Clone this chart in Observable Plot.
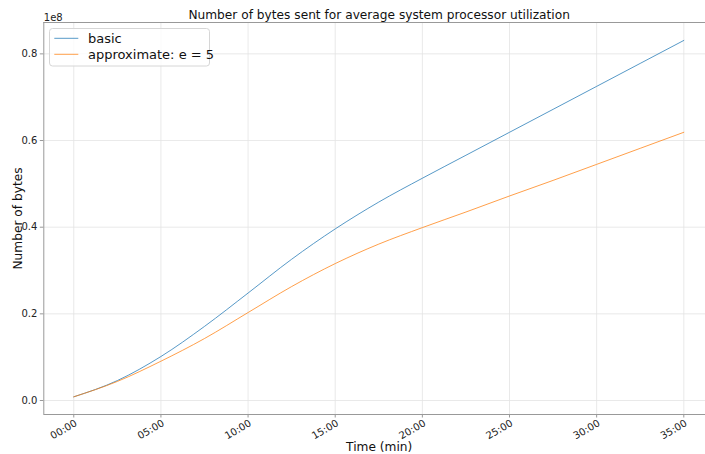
<!DOCTYPE html>
<html>
<head>
<meta charset="utf-8">
<script src="https://cdn.jsdelivr.net/npm/d3@7"></script>
<script src="https://cdn.jsdelivr.net/npm/@observablehq/plot@0.6"></script>
<style>
  body { margin: 0; background: #fff; }
  #chart svg { font-family: "DejaVu Sans", sans-serif; }
</style>
</head>
<body>
<div id="chart"></div>
<script>
// ---- data (values in units of 1e8 bytes) ----
const minutes = [0, 2.5, 5, 7.5, 10, 12.5, 15, 17.5, 20, 22.5, 25, 27.5, 30, 32.5, 35];
const basicBytes = [0.0085, 0.046, 0.1015, 0.171, 0.248, 0.326, 0.396, 0.458, 0.513, 0.566, 0.619, 0.672, 0.725, 0.778, 0.831];
const approxBytes = [0.0085, 0.044, 0.0907, 0.143, 0.203, 0.263, 0.316, 0.361, 0.399, 0.435, 0.472, 0.508, 0.545, 0.582, 0.619];
const seriesNames = ["basic", "approximate: e = 5"];
const seriesColors = ["#1f77b4", "#ff7f0e"];
const xTicks = [0, 5, 10, 15, 20, 25, 30, 35];
const xTickLabels = ["00:00", "05:00", "10:00", "15:00", "20:00", "25:00", "30:00", "35:00"];
const yTicks = [0, 0.2, 0.4, 0.6, 0.8];
const yTickLabels = ["0.0", "0.2", "0.4", "0.6", "0.8"];
const titleText = "Number of bytes sent for average system processor utilization";
const xLabel = "Time (min)";
const yLabel = "Number of bytes";
const offsetLabel = "1e8";

const rows = [];
minutes.forEach((m, i) => {
  rows.push({ m, v: basicBytes[i], s: seriesNames[0] });
  rows.push({ m, v: approxBytes[i], s: seriesNames[1] });
});

const xDomain = [-1.72, 36.245];
const yDomain = [-0.0323, 0.8724];
const spine = "#999";
const gridColor = "#e3e3e3";
const textColor = "#222";

const plot = Plot.plot({
  width: 705,
  height: 454,
  marginLeft: 43.3,
  marginRight: 0,
  marginTop: 22,
  marginBottom: 40,
  style: { fontFamily: "DejaVu Sans, sans-serif", fontSize: "10px", color: textColor, background: "#fff", overflow: "visible" },
  x: { domain: xDomain, axis: null },
  y: { domain: yDomain, axis: null },
  color: { domain: seriesNames, range: seriesColors },
  marks: [
    Plot.gridX(xTicks, { stroke: gridColor, strokeOpacity: 1, strokeWidth: 0.8 }),
    Plot.gridY(yTicks, { stroke: gridColor, strokeOpacity: 1, strokeWidth: 0.8 }),
    Plot.ruleX([xDomain[0]], { stroke: spine, strokeWidth: 1 }),
    Plot.ruleY([yDomain[0], yDomain[1]], { stroke: spine, strokeWidth: 1 }),
    Plot.line(rows, { x: "m", y: "v", stroke: "s", curve: "monotone-x", strokeWidth: 1, strokeOpacity: 0.75 }),
    Plot.axisX(xTicks, { tickSize: 3.5, stroke: spine, tickFormat: () => "", label: null }),
    Plot.text(xTicks, {
      x: d => d, frameAnchor: "bottom", text: (d, i) => xTickLabels[i],
      rotate: -30, textAnchor: "end", lineAnchor: "top", dy: 4.5, dx: 0.5, fontSize: 10, fill: textColor
    }),
    Plot.axisY(yTicks, { tickSize: 3.5, tickPadding: 3, stroke: spine, fill: textColor, fontSize: 10, tickFormat: (d, i) => yTickLabels[i], label: null }),
    Plot.text([titleText], { frameAnchor: "top", dy: -4, dx: 4.5, lineAnchor: "bottom", fontSize: 12.2, fill: "#111" }),
    Plot.text([xLabel], { frameAnchor: "bottom", dy: 36, dx: 4.5, lineAnchor: "bottom", fontSize: 12.2, fill: "#111" }),
    Plot.text([yLabel], { frameAnchor: "left", dx: -26, rotate: -90, textAnchor: "middle", lineAnchor: "middle", fontSize: 12.2, fill: "#111" }),
    Plot.text([offsetLabel], { frameAnchor: "top-left", dy: -2, textAnchor: "start", lineAnchor: "bottom", fontSize: 10, fill: textColor })
  ]
});

// legend
const svg = d3.select(plot);
const lg = svg.append("g").attr("text-anchor", "start");
lg.append("rect").attr("x", 49.5).attr("y", 28.5).attr("width", 160).attr("height", 37.5)
  .attr("rx", 3).attr("fill", "#fff").attr("fill-opacity", 0.8).attr("stroke", "#d6d6d6").attr("stroke-width", 1);
seriesNames.forEach((name, i) => {
  const y = 38.3 + i * 16;
  lg.append("line").attr("x1", 54.3).attr("x2", 78.3).attr("y1", y).attr("y2", y)
    .attr("stroke", seriesColors[i]).attr("stroke-opacity", 0.75).attr("stroke-width", 1);
  lg.append("text").attr("x", 88).attr("y", y).attr("dy", "0.35em").attr("text-anchor", "start")
    .attr("font-size", 13).attr("fill", "#111").text(name);
});

document.getElementById("chart").appendChild(plot);
</script>
</body>
</html>
